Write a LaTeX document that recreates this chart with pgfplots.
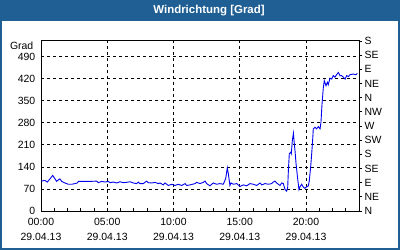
\documentclass[border=0pt]{standalone}
\usepackage{pgfplots}
\pgfplotsset{compat=1.18}
\usepackage{fontspec}
\setmainfont{Liberation Sans}
\definecolor{titleblue}{RGB}{31,95,148}
\definecolor{lineblue}{RGB}{0,0,240}
\pgfplotstableread{
h v
0 95
0.3 97
0.48 92
0.68 102
0.88 113
1.06 102
1.18 94
1.31 99
1.43 102
1.56 94
1.81 89
2.06 85
2.31 85
2.57 87
2.74 89
2.82 94
3.70 94
4.20 95
4.33 90
4.58 94
4.83 92
5.08 94
5.21 90
5.46 92
5.71 89
5.96 93
6.21 90
6.46 91
6.72 93
6.97 89
7.22 87
7.35 92
7.47 87
7.72 87
7.97 95
8.1 90
8.35 89
8.6 91
8.86 87
8.98 89
9.23 83
9.36 89
9.61 81
9.86 85
10.11 81
10.36 85
10.62 81
10.87 87
11.0 81
11.25 83
11.62 87
11.75 91
12.0 87
12.25 91
12.38 95
12.5 87
12.75 80
13.0 89
13.25 85
13.5 87
13.76 85
13.94 103
14.06 137
14.14 118
14.26 81
14.34 89
14.52 85
14.77 87
15.02 78
15.27 83
15.52 80
15.77 87
16.03 85
16.28 81
16.53 89
16.66 83
16.91 87
17.16 85
17.41 87
17.53 92
17.66 95
17.79 89
18.04 81
18.16 89
18.29 87
18.42 68
18.54 63
18.62 76
18.67 129
18.74 182
18.85 187
18.89 182
18.97 224
19.05 247
19.12 213
19.17 192
19.25 150
19.37 103
19.47 68
19.55 77
19.67 85
19.80 76
19.92 72
20.05 77
20.18 80
20.25 97
20.35 139
20.43 182
20.5 224
20.55 261
20.68 266
20.8 261
20.93 268
21.06 261
21.13 282
21.21 340
21.31 393
21.38 414
21.51 398
21.61 409
21.68 401
21.81 422
21.94 419
22.06 430
22.19 425
22.31 433
22.44 440
22.57 430
22.69 430
22.82 425
22.95 419
23.07 430
23.2 427
23.32 433
23.57 435
23.77 433
23.87 437
}\winddata
\begin{document}
\begin{tikzpicture}
\fontsize{10.5}{12}\selectfont
\fill[white] (0,0) rectangle (400bp,250bp);
\fill[titleblue] (0,229bp) rectangle (400bp,250bp);
\node[white,font=\fontsize{11.5}{13}\selectfont\bfseries] at (209bp,239.5bp) {Windrichtung [Grad]};
\begin{axis}[
  at={(41bp,39bp)}, anchor=south west,
  scale only axis, width=318bp, height=170bp,
  xmin=0, xmax=24, ymin=0, ymax=540,
  axis line style={line width=1bp},
  xtick={0,5,10,15,20},
  xticklabels={{00:00\\29.04.13},{05:00\\29.04.13},{10:00\\29.04.13},{15:00\\29.04.13},{20:00\\29.04.13}},
  xticklabel style={align=center, font=\fontsize{10.5}{14.3}\selectfont, yshift=-4bp},
  minor xtick={1,2,3,4,6,7,8,9,11,12,13,14,16,17,18,19,21,22,23},
  xtick pos=bottom, ytick pos=left,
  tick align=inside,
  minor tick length=3bp, major tick length=0bp,
  tick style={black, line width=0.8bp},
  ytick={0,70,140,210,280,350,420,490},
  yticklabel style={font=\fontsize{10.5}{12}\selectfont, xshift=-2bp},
  /pgf/number format/assume math mode=true,
  grid=major,
  major grid style={black, line width=0.8bp, dash pattern=on 3bp off 3bp},
  clip=true,
]
\addplot[lineblue, line width=0.9bp] table[x=h,y=v] {\winddata};
\end{axis}
\node[anchor=east, font=\fontsize{10.5}{12}\selectfont] at (37bp,204bp) {Grad};
\begin{axis}[
  at={(41bp,39bp)}, anchor=south west,
  scale only axis, width=318bp, height=170bp,
  xmin=0, xmax=24, ymin=0, ymax=540,
  axis x line=none, axis y line*=right,
  axis line style={line width=1bp, -},
  ytick={0,45,...,540},
  yticklabels={N,NE,E,SE,S,SW,W,NW,N,NE,E,SE,S},
  yticklabel style={font=\fontsize{10.5}{12}\selectfont, xshift=-1bp},
  tick align=outside, major tick length=3bp,
  tick style={black, line width=0.8bp},
]
\end{axis}
\draw[titleblue, line width=2bp] (1bp,1bp) rectangle (399bp,249bp);
\pgfresetboundingbox
\useasboundingbox (0,0) rectangle (400bp,250bp);
\end{tikzpicture}
\end{document}
